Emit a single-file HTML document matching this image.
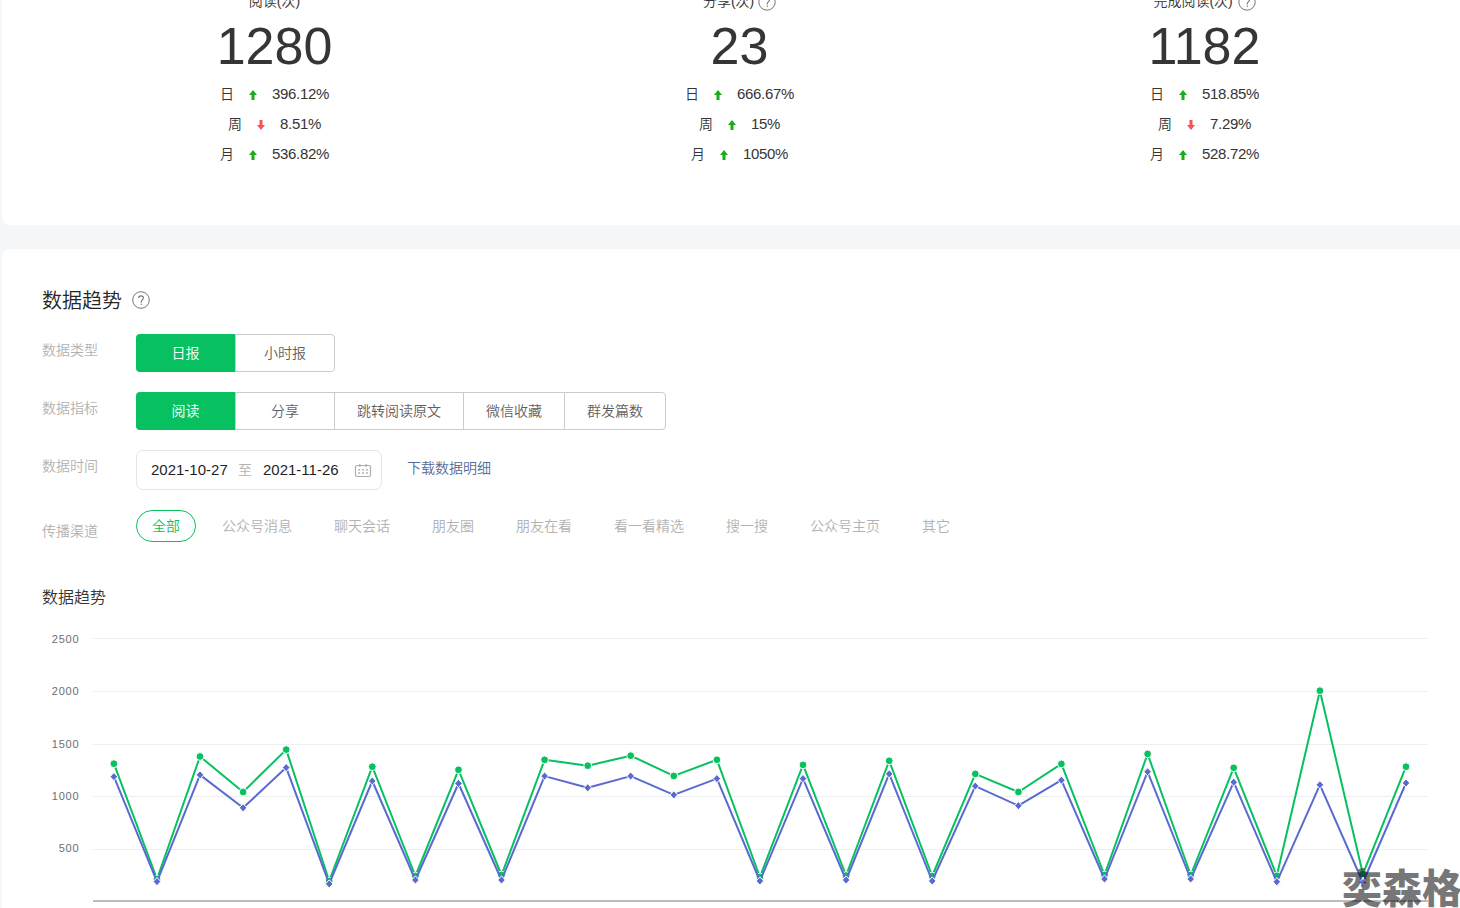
<!DOCTYPE html>
<html lang="zh-CN">
<head>
<meta charset="utf-8">
<title>数据趋势</title>
<style>
*{margin:0;padding:0;box-sizing:border-box}
html,body{width:1460px;height:908px;overflow:hidden}
body{background:#f5f6f7;font-family:"Liberation Sans","Noto Sans CJK SC",sans-serif;font-weight:350;color:#353535;font-size:14px;position:relative}
.card{position:absolute;left:2px;width:1520px;background:#fff;border-radius:8px}
#c1{top:-40px;height:265px}
#c2{top:249px;height:700px}
.abs{position:absolute}
.stat{position:absolute;top:0;width:465px;text-align:center}
.stat .t{position:absolute;left:0;right:0;top:-9px;line-height:20px;font-size:14px;color:#353535}
.stat .n{position:absolute;left:0;right:0;top:16px;line-height:60px;font-size:52px;color:#353535}
.stat .r{position:absolute;left:0;right:0;height:20px;line-height:20px;display:flex;justify-content:center;align-items:center;font-size:14px;color:#353535}
.stat .r .k{margin-right:15px}
.stat .r svg{margin-right:15px;display:block;position:relative;top:1px}
.stat .r .v{font-size:15px;letter-spacing:-0.35px}
.qm{display:inline-block;vertical-align:middle}
.lbl{position:absolute;left:42px;font-size:14px;color:#b2b2b2;line-height:20px}
.btns{position:absolute;left:136px;display:flex;height:38px}
.btns span{display:block;height:38px;text-align:center;line-height:36px;font-size:14px;color:#5f5f5f;border:1px solid #cacbd0;border-right:0}
.btns span.on{background:#07c160;color:#fff;border:0;line-height:38px;border-radius:4px 0 0 4px}
.btns span:last-child{border-right:1px solid #cacbd0;border-radius:0 4px 4px 0}
.chs{font-size:14px;line-height:20px;color:#b2b2b2}
</style>
</head>
<body>
<div class="card" id="c1"></div>
<div class="card" id="c2"></div>

<!-- stats -->
<div class="stat" style="left:42px">
  <div class="t">阅读(次)</div>
  <div class="n">1280</div>
  <div class="r" style="top:84px"><span class="k">日</span><svg width="8" height="10" viewBox="0 0 8 10"><path d="M4 0L8 5H5.5V10H2.5V5H0Z" fill="#1aad19"/></svg><span class="v">396.12%</span></div>
  <div class="r" style="top:114px"><span class="k">周</span><svg width="8" height="10" viewBox="0 0 8 10"><path d="M4 10L8 5H5.5V0H2.5V5H0Z" fill="#fa5151"/></svg><span class="v">8.51%</span></div>
  <div class="r" style="top:144px"><span class="k">月</span><svg width="8" height="10" viewBox="0 0 8 10"><path d="M4 0L8 5H5.5V10H2.5V5H0Z" fill="#1aad19"/></svg><span class="v">536.82%</span></div>
</div>
<div class="stat" style="left:507px">
  <div class="t">分享(次) <svg class="qm" width="18" height="18" viewBox="0 0 18 18"><circle cx="9" cy="9" r="8.2" fill="none" stroke="#767676" stroke-width="1"/><path d="M6.6 7.1C6.6 5.7 7.6 4.9 9 4.9S11.4 5.8 11.4 7C11.4 8.5 9.3 8.9 9.3 10.8V11.4" fill="none" stroke="#767676" stroke-width="1.1"/><rect x="8.7" y="12.6" width="1.2" height="1.3" fill="#767676"/></svg></div>
  <div class="n">23</div>
  <div class="r" style="top:84px"><span class="k">日</span><svg width="8" height="10" viewBox="0 0 8 10"><path d="M4 0L8 5H5.5V10H2.5V5H0Z" fill="#1aad19"/></svg><span class="v">666.67%</span></div>
  <div class="r" style="top:114px"><span class="k">周</span><svg width="8" height="10" viewBox="0 0 8 10"><path d="M4 0L8 5H5.5V10H2.5V5H0Z" fill="#1aad19"/></svg><span class="v">15%</span></div>
  <div class="r" style="top:144px"><span class="k">月</span><svg width="8" height="10" viewBox="0 0 8 10"><path d="M4 0L8 5H5.5V10H2.5V5H0Z" fill="#1aad19"/></svg><span class="v">1050%</span></div>
</div>
<div class="stat" style="left:972px">
  <div class="t">完成阅读(次) <svg class="qm" style="margin-left:1px" width="18" height="18" viewBox="0 0 18 18"><circle cx="9" cy="9" r="8.2" fill="none" stroke="#767676" stroke-width="1"/><path d="M6.6 7.1C6.6 5.7 7.6 4.9 9 4.9S11.4 5.8 11.4 7C11.4 8.5 9.3 8.9 9.3 10.8V11.4" fill="none" stroke="#767676" stroke-width="1.1"/><rect x="8.7" y="12.6" width="1.2" height="1.3" fill="#767676"/></svg></div>
  <div class="n">1182</div>
  <div class="r" style="top:84px"><span class="k">日</span><svg width="8" height="10" viewBox="0 0 8 10"><path d="M4 0L8 5H5.5V10H2.5V5H0Z" fill="#1aad19"/></svg><span class="v">518.85%</span></div>
  <div class="r" style="top:114px"><span class="k">周</span><svg width="8" height="10" viewBox="0 0 8 10"><path d="M4 10L8 5H5.5V0H2.5V5H0Z" fill="#fa5151"/></svg><span class="v">7.29%</span></div>
  <div class="r" style="top:144px"><span class="k">月</span><svg width="8" height="10" viewBox="0 0 8 10"><path d="M4 0L8 5H5.5V10H2.5V5H0Z" fill="#1aad19"/></svg><span class="v">528.72%</span></div>
</div>

<!-- section 2 -->
<div class="abs" style="left:42px;top:288px;font-size:20px;line-height:26px;color:#262626">数据趋势</div>
<svg class="abs" style="left:132px;top:291px" width="18" height="18" viewBox="0 0 18 18"><circle cx="9" cy="9" r="8.3" fill="none" stroke="#767676" stroke-width="1"/><path d="M6.6 7.1C6.6 5.7 7.6 4.9 9 4.9S11.4 5.8 11.4 7C11.4 8.5 9.3 8.9 9.3 10.8V11.4" fill="none" stroke="#767676" stroke-width="1.1"/><rect x="8.7" y="12.6" width="1.2" height="1.3" fill="#767676"/></svg>

<div class="lbl" style="top:340px">数据类型</div>
<div class="btns" style="top:334px"><span class="on" style="width:99px">日报</span><span style="width:100px">小时报</span></div>

<div class="lbl" style="top:398px">数据指标</div>
<div class="btns" style="top:392px"><span class="on" style="width:99px">阅读</span><span style="width:99px">分享</span><span style="width:129px">跳转阅读原文</span><span style="width:101px">微信收藏</span><span style="width:102px">群发篇数</span></div>

<div class="lbl" style="top:456px">数据时间</div>
<div class="abs" id="dp" style="left:136px;top:450px;width:246px;height:40px;border:1px solid #e4e6ea;border-radius:7px"></div>
<div class="abs" style="left:151px;top:460px;line-height:20px;font-size:15px;color:#1f1f1f">2021-10-27</div>
<div class="abs" style="left:238px;top:460px;line-height:20px;font-size:14px;color:#b2b2b2">至</div>
<div class="abs" style="left:263px;top:460px;line-height:20px;font-size:15px;color:#1f1f1f">2021-11-26</div>
<svg class="abs" style="left:354px;top:463px" width="18" height="15" viewBox="0 0 18 15"><rect x="1.5" y="2.5" width="15" height="11" rx="1.5" fill="none" stroke="#abadb0" stroke-width="1.2"/><rect x="5" y="1" width="1.6" height="3" rx=".8" fill="#abadb0"/><rect x="11.4" y="1" width="1.6" height="3" rx=".8" fill="#abadb0"/><g fill="#b4b6b8"><rect x="4.1" y="6" width="2" height="1.6"/><rect x="8" y="6" width="2" height="1.6"/><rect x="11.9" y="6" width="2" height="1.6"/><rect x="4.1" y="9.2" width="2" height="1.6"/><rect x="8" y="9.2" width="2" height="1.6"/><rect x="11.9" y="9.2" width="2" height="1.6"/></g></svg>
<div class="abs" style="left:407px;top:458px;line-height:20px;font-size:14px;color:#576b95">下载数据明细</div>

<div class="lbl" style="top:521px">传播渠道</div>
<div class="abs" style="left:136px;top:510px;width:60px;height:32px;border:1px solid #07c160;border-radius:16px;color:#07c160;text-align:center;line-height:30px;font-size:14px">全部</div>
<div class="abs chs" style="left:222px;top:516px">公众号消息</div>
<div class="abs chs" style="left:334px;top:516px">聊天会话</div>
<div class="abs chs" style="left:432px;top:516px">朋友圈</div>
<div class="abs chs" style="left:516px;top:516px">朋友在看</div>
<div class="abs chs" style="left:614px;top:516px">看一看精选</div>
<div class="abs chs" style="left:726px;top:516px">搜一搜</div>
<div class="abs chs" style="left:810px;top:516px">公众号主页</div>
<div class="abs chs" style="left:922px;top:516px">其它</div>

<div class="abs" style="left:42px;top:587px;font-size:16px;line-height:22px;color:#353535">数据趋势</div>

<svg class="abs" style="left:0;top:0" width="1460" height="908" viewBox="0 0 1460 908" id="chart">
<g fill="#6e6e6e" font-size="11" letter-spacing="0.75" text-anchor="end" font-family="Liberation Sans, sans-serif">
<text x="79.3" y="643">2500</text>
<text x="79.3" y="695">2000</text>
<text x="79.3" y="748">1500</text>
<text x="79.3" y="800">1000</text>
<text x="79.3" y="852">500</text>
</g>
<path d="M93 638.5H1428M93 691.5H1428M93 744.5H1428M93 796.5H1428M93 849.5H1428" stroke="#edeef0" stroke-width="1"/>
<path d="M93 901H1428" stroke="#bdbdbd" stroke-width="2"/>
<!--CHART-->
<polyline fill="none" stroke="#07c160" stroke-width="2" stroke-linejoin="round" points="113.9,763.7 157.0,879.0 200.0,756.5 243.1,792.0 286.2,749.6 329.2,881.0 372.3,766.7 415.4,876.0 458.5,769.8 501.5,875.0 544.6,759.8 587.7,765.7 630.7,755.7 673.8,775.9 716.9,759.8 759.9,877.0 803.0,764.9 846.1,875.5 889.2,760.8 932.2,876.0 975.3,773.9 1018.4,792.0 1061.4,763.9 1104.5,875.0 1147.6,753.9 1190.7,875.0 1233.7,767.8 1276.8,875.8 1319.9,690.7 1362.9,874.1 1406.0,766.7"/>
<g fill="#07c160" stroke="#fff" stroke-width="1"><circle cx="113.9" cy="763.7" r="3.9"/><circle cx="157.0" cy="879.0" r="3.9"/><circle cx="200.0" cy="756.5" r="3.9"/><circle cx="243.1" cy="792.0" r="3.9"/><circle cx="286.2" cy="749.6" r="3.9"/><circle cx="329.2" cy="881.0" r="3.9"/><circle cx="372.3" cy="766.7" r="3.9"/><circle cx="415.4" cy="876.0" r="3.9"/><circle cx="458.5" cy="769.8" r="3.9"/><circle cx="501.5" cy="875.0" r="3.9"/><circle cx="544.6" cy="759.8" r="3.9"/><circle cx="587.7" cy="765.7" r="3.9"/><circle cx="630.7" cy="755.7" r="3.9"/><circle cx="673.8" cy="775.9" r="3.9"/><circle cx="716.9" cy="759.8" r="3.9"/><circle cx="759.9" cy="877.0" r="3.9"/><circle cx="803.0" cy="764.9" r="3.9"/><circle cx="846.1" cy="875.5" r="3.9"/><circle cx="889.2" cy="760.8" r="3.9"/><circle cx="932.2" cy="876.0" r="3.9"/><circle cx="975.3" cy="773.9" r="3.9"/><circle cx="1018.4" cy="792.0" r="3.9"/><circle cx="1061.4" cy="763.9" r="3.9"/><circle cx="1104.5" cy="875.0" r="3.9"/><circle cx="1147.6" cy="753.9" r="3.9"/><circle cx="1190.7" cy="875.0" r="3.9"/><circle cx="1233.7" cy="767.8" r="3.9"/><circle cx="1276.8" cy="875.8" r="3.9"/><circle cx="1319.9" cy="690.7" r="3.9"/><circle cx="1362.9" cy="874.1" r="3.9"/><circle cx="1406.0" cy="766.7" r="3.9"/></g>
<polyline fill="none" stroke="#5a6ad0" stroke-width="2" stroke-linejoin="round" points="113.9,776.7 157.0,881.6 200.0,774.9 243.1,807.8 286.2,767.6 329.2,883.9 372.3,781.0 415.4,880.0 458.5,783.5 501.5,880.0 544.6,776.1 587.7,787.8 630.7,776.1 673.8,794.9 716.9,778.6 759.9,881.0 803.0,778.6 846.1,880.0 889.2,773.9 932.2,881.0 975.3,786.1 1018.4,805.7 1061.4,780.2 1104.5,879.0 1147.6,771.8 1190.7,879.0 1233.7,782.2 1276.8,881.8 1319.9,784.8 1362.9,882.5 1406.0,783.0"/>
<g fill="#5a6ad0" stroke="#fff" stroke-width="1"><path d="M113.9 772.6L117.7 776.7L113.9 780.8L110.1 776.7Z"/><path d="M157.0 877.5L160.8 881.6L157.0 885.7L153.2 881.6Z"/><path d="M200.0 770.8L203.8 774.9L200.0 779.0L196.2 774.9Z"/><path d="M243.1 803.7L246.9 807.8L243.1 811.9L239.3 807.8Z"/><path d="M286.2 763.5L290.0 767.6L286.2 771.7L282.4 767.6Z"/><path d="M329.2 879.8L333.1 883.9L329.2 888.0L325.4 883.9Z"/><path d="M372.3 776.9L376.1 781.0L372.3 785.1L368.5 781.0Z"/><path d="M415.4 875.9L419.2 880.0L415.4 884.1L411.6 880.0Z"/><path d="M458.5 779.4L462.3 783.5L458.5 787.6L454.7 783.5Z"/><path d="M501.5 875.9L505.3 880.0L501.5 884.1L497.7 880.0Z"/><path d="M544.6 772.0L548.4 776.1L544.6 780.2L540.8 776.1Z"/><path d="M587.7 783.7L591.5 787.8L587.7 791.9L583.9 787.8Z"/><path d="M630.7 772.0L634.5 776.1L630.7 780.2L626.9 776.1Z"/><path d="M673.8 790.8L677.6 794.9L673.8 799.0L670.0 794.9Z"/><path d="M716.9 774.5L720.7 778.6L716.9 782.7L713.1 778.6Z"/><path d="M759.9 876.9L763.7 881.0L759.9 885.1L756.1 881.0Z"/><path d="M803.0 774.5L806.8 778.6L803.0 782.7L799.2 778.6Z"/><path d="M846.1 875.9L849.9 880.0L846.1 884.1L842.3 880.0Z"/><path d="M889.2 769.8L893.0 773.9L889.2 778.0L885.4 773.9Z"/><path d="M932.2 876.9L936.0 881.0L932.2 885.1L928.4 881.0Z"/><path d="M975.3 782.0L979.1 786.1L975.3 790.2L971.5 786.1Z"/><path d="M1018.4 801.6L1022.2 805.7L1018.4 809.8L1014.6 805.7Z"/><path d="M1061.4 776.1L1065.2 780.2L1061.4 784.3L1057.6 780.2Z"/><path d="M1104.5 874.9L1108.3 879.0L1104.5 883.1L1100.7 879.0Z"/><path d="M1147.6 767.7L1151.4 771.8L1147.6 775.9L1143.8 771.8Z"/><path d="M1190.7 874.9L1194.5 879.0L1190.7 883.1L1186.9 879.0Z"/><path d="M1233.7 778.1L1237.5 782.2L1233.7 786.3L1229.9 782.2Z"/><path d="M1276.8 877.7L1280.6 881.8L1276.8 885.9L1273.0 881.8Z"/><path d="M1319.9 780.7L1323.7 784.8L1319.9 788.9L1316.1 784.8Z"/><path d="M1362.9 878.4L1366.7 882.5L1362.9 886.6L1359.1 882.5Z"/><path d="M1406.0 778.9L1409.8 783.0L1406.0 787.1L1402.2 783.0Z"/></g>
<!--/CHART-->
</svg>
<div class="abs" style="left:1342px;top:860px;font-size:40px;line-height:52px;font-weight:900;white-space:nowrap;color:rgba(0,0,0,.55);font-family:'Noto Sans CJK SC',sans-serif;letter-spacing:0">奕森格</div>

</body>
</html>
